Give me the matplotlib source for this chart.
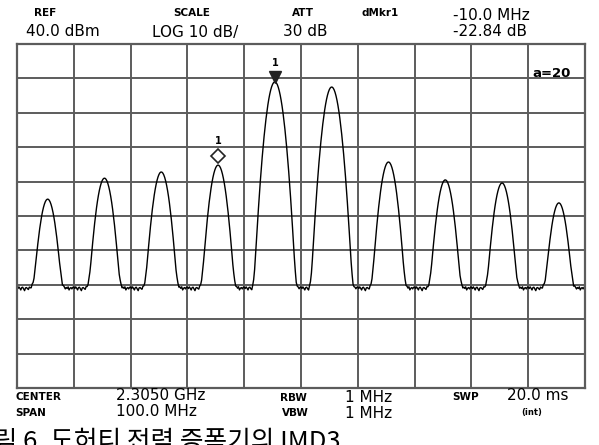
import matplotlib
matplotlib.use("Agg")
import matplotlib.pyplot as plt
import numpy as np

# tone frequencies (MHz) and peak levels (dBm)
tone_freq = [2260.4, 2270.4, 2280.4, 2290.4, 2300.4, 2310.4, 2320.4, 2330.4, 2340.4, 2350.4]
tone_level = [-5.1, 1.0, 2.8, 4.8, 29.0, 27.5, 5.7, 0.5, -0.4, -6.2]
floor_level = -31.0
# small wobble of the noise floor (dB)
floor_ripple = [0.3, -0.1, 0.4, 0.0, -0.5, 0.2, 0.3, -0.2, -0.7, 0.1,
                0.2, -0.1, -0.4, 0.3, 0.0, -0.2, 0.5, -0.1, -0.8, 0.2,
                0.1, -0.3, 0.2, -0.1, 0.4, -0.5, 0.0, 0.2, -0.2, 0.3]

center = 2305.0
span = 100.0
ref_level = 40.0
db_div = 10.0

marker_freq = 2300.4
dmarker_freq = 2290.4

plt.rcParams['font.family'] = ['DejaVu Sans']

fig = plt.figure(figsize=(5.99, 4.45), dpi=100)
ax = fig.add_axes([17 / 599, 1 - 388 / 445, 568 / 599, 344 / 445])

# sweep: 601 points, each tone seen through the resolution filter
f = np.linspace(center - span / 2, center + span / 2, 601)
p_lin = 10 ** ((floor_level + np.resize(floor_ripple, f.size)) / 10)
for fc, lv in zip(tone_freq, tone_level):
    p_lin = p_lin + 10 ** ((lv - 4.4 * (f - fc) ** 2) / 10)
trace = 10 * np.log10(p_lin)

grid_c = '#5c5c5c'
ax.plot(f, trace, color='black', lw=1.0)
ax.set_xlim(center - span / 2, center + span / 2)
ax.set_ylim(ref_level - 10 * db_div, ref_level)
ax.set_xticks(np.linspace(center - span / 2, center + span / 2, 11))
ax.set_yticks(np.linspace(ref_level - 10 * db_div, ref_level, 11))
ax.grid(True, color=grid_c, lw=1.4)
ax.tick_params(length=0, labelbottom=False, labelleft=False)
for s in ax.spines.values():
    s.set_color(grid_c)
    s.set_linewidth(1.6)

# markers
i1 = tone_freq.index(marker_freq)
i2 = tone_freq.index(dmarker_freq)
ax.plot(marker_freq, tone_level[i1] + 1.4, marker='v', ms=8, color='#222222', clip_on=False)
ax.text(marker_freq, tone_level[i1] + 4.0, '1', ha='center', va='bottom', fontsize=7,
        fontweight='bold')
ax.plot(dmarker_freq, tone_level[i2] + 2.6, marker='D', ms=7, mfc='white', mec='#222222', mew=1.2)
ax.text(dmarker_freq, tone_level[i2] + 5.6, '1', ha='center', va='bottom', fontsize=7,
        fontweight='bold')
ax.text(0.907, 0.915, 'a=20', transform=ax.transAxes, ha='left', va='center',
        fontsize=9.5, fontweight='bold')


def px(x, y, s, size=11, weight='normal', ha='left'):
    fig.text(x / 599, 1 - y / 445, s, ha=ha, va='center', fontsize=size, fontweight=weight)


small = dict(size=7.5, weight='bold')
# header
px(45, 13, 'REF', ha='center', **small)
px(26, 32, '40.0 dBm')
px(192, 13, 'SCALE', ha='center', **small)
px(152, 32, 'LOG 10 dB/')
px(303, 13, 'ATT', ha='center', **small)
px(283, 32, '30 dB')
px(362, 13, 'dMkr1', **small)
px(453, 15, '-10.0 MHz')
px(453, 32, '-22.84 dB')
# footer
px(15, 397, 'CENTER', **small)
px(116, 396, '2.3050 GHz')
px(280, 398, 'RBW', **small)
px(345, 397, '1 MHz')
px(452, 397, 'SWP', **small)
px(507, 396, '20.0 ms')
px(15, 413, 'SPAN', **small)
px(116, 412, '100.0 MHz')
px(282, 413, 'VBW', **small)
px(345, 413, '1 MHz')
px(532, 413, '(int)', ha='center', size=6, weight='bold')

# caption, cut by the page edge as in the scan
fig.text(-30 / 599, 1 - 429 / 445, '그림 6. 도허티 전력 증폭기의 IMD3', ha='left', va='top',
         fontsize=18.5, family=['Noto Sans CJK KR', 'DejaVu Sans'])

fig.savefig('out.png', dpi=100)
